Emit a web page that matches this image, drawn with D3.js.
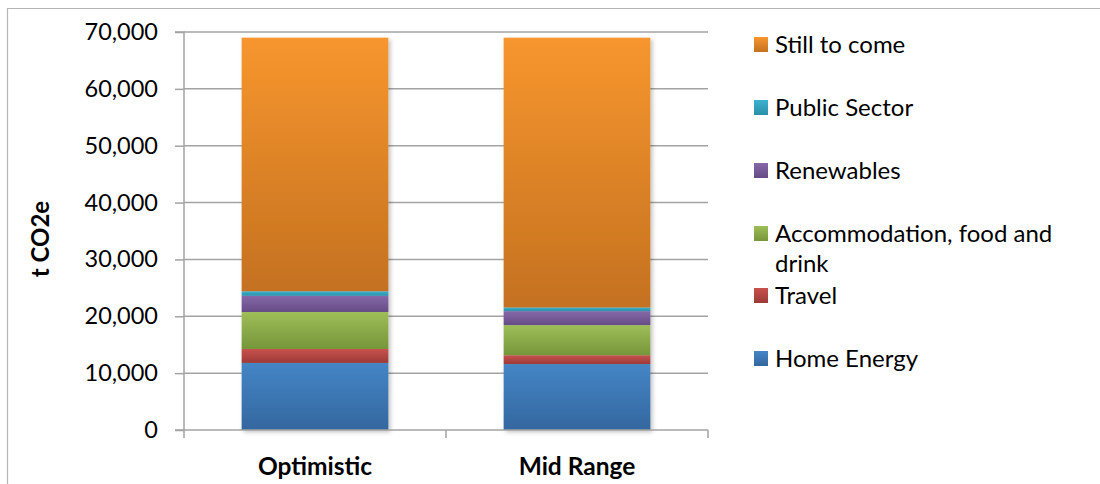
<!DOCTYPE html>
<html>
<head>
<meta charset="utf-8">
<script src="https://cdn.jsdelivr.net/npm/d3@7/dist/d3.min.js"></script>
<style>
  html, body { margin: 0; padding: 0; background: #fff; }
  svg { display: block; font-family: Lato, "Open Sans", sans-serif; }
</style>
</head>
<body>
<svg id="chart" width="1100" height="484"></svg>
<script>
// Scenarios on the x axis
const categories = ["Optimistic", "Mid Range"];

// Series, bottom to top of each stack (t CO2e)
const seriesNames = ["Home Energy", "Travel", "Accommodation, food and drink", "Renewables", "Public Sector", "Still to come"];
const homeEnergy   = [11800, 11600];
const travel       = [2450, 1550];
const accommodation = [6500, 5300];
const renewables   = [2850, 2450];
const publicSector = [800, 650];
const stillToCome  = [44600, 47450];

const yTicks = [0, 10000, 20000, 30000, 40000, 50000, 60000, 70000];
const yTitle = "t CO2e";

// Gradient stops per series: [top, bottom]
const seriesColors = [
  ["#4585c6", "#33679f"],
  ["#c8524e", "#9c3a36"],
  ["#9dbe58", "#76963a"],
  ["#8668a8", "#654c86"],
  ["#3cb3cf", "#2a8ea8"],
  ["#f7962e", "#c47120"]
];

const svg = d3.select("#chart");
const defs = svg.append("defs");

seriesColors.forEach((c, i) => {
  const g = defs.append("linearGradient")
    .attr("id", "grad" + i).attr("x1", 0).attr("y1", 0).attr("x2", 0).attr("y2", 1);
  g.append("stop").attr("offset", "0%").attr("stop-color", c[0]);
  g.append("stop").attr("offset", "100%").attr("stop-color", c[1]);
});

const shadow = defs.append("filter").attr("id", "shadow")
  .attr("x", "-10%").attr("y", "-10%").attr("width", "130%").attr("height", "130%");
shadow.append("feDropShadow").attr("dx", 2).attr("dy", 2).attr("stdDeviation", 2)
  .attr("flood-color", "#000").attr("flood-opacity", 0.25);

// Outer frame (top and left edges visible)
svg.append("path").attr("d", "M7.5,484 V8.5 H1100")
  .attr("fill", "none").attr("stroke", "#b5b5b5").attr("stroke-width", 1.2);

const plot = { left: 184, right: 708, top: 32, bottom: 430 };

const x = d3.scaleBand().domain(categories)
  .range([plot.left, plot.right]).paddingInner(0.44).paddingOuter(0.22);
const y = d3.scaleLinear().domain([0, 70000]).range([plot.bottom, plot.top]);

// Gridlines
svg.append("g").selectAll("line").data(yTicks.slice(1)).join("line")
  .attr("x1", plot.left).attr("x2", plot.right)
  .attr("y1", d => y(d)).attr("y2", d => y(d))
  .attr("stroke", "#a3a3a3").attr("stroke-width", 1.5);

// Stacked data
const seriesArrays = [homeEnergy, travel, accommodation, renewables, publicSector, stillToCome];
const table = categories.map((c, j) => {
  const row = { category: c };
  seriesNames.forEach((s, i) => row[s] = seriesArrays[i][j]);
  return row;
});
const stacked = d3.stack().keys(seriesNames)(table);

const bars = svg.append("g").attr("filter", "url(#shadow)");
stacked.forEach((layer, i) => {
  bars.selectAll(null).data(layer).join("rect")
    .attr("x", d => x(d.data.category))
    .attr("width", x.bandwidth())
    .attr("y", d => y(d[1]))
    .attr("height", d => y(d[0]) - y(d[1]))
    .attr("fill", `url(#grad${i})`);
});

// Y axis
const yAxis = d3.axisLeft(y).tickValues(yTicks).tickSize(9).tickPadding(17)
  .tickFormat(d3.format(","));
const yg = svg.append("g").attr("transform", `translate(${plot.left},0)`).call(yAxis);
yg.select(".domain").attr("stroke", "#a3a3a3").attr("stroke-width", 1.5)
  .attr("d", `M-9,${plot.top}H0V${plot.bottom}H-9`);
yg.selectAll(".tick line").attr("stroke", "#a3a3a3").attr("stroke-width", 1.5);
yg.selectAll(".tick text").attr("font-size", 23.5).attr("fill", "#000")
  .attr("font-family", "Lato, sans-serif");

// X axis baseline and ticks at category boundaries
const xg = svg.append("g");
xg.append("line").attr("x1", plot.left).attr("x2", plot.right)
  .attr("y1", plot.bottom).attr("y2", plot.bottom)
  .attr("stroke", "#a3a3a3").attr("stroke-width", 1.5);
const boundaries = [plot.left, (plot.left + plot.right) / 2, plot.right];
xg.selectAll(".bt").data(boundaries).join("line")
  .attr("x1", d => d).attr("x2", d => d)
  .attr("y1", plot.bottom).attr("y2", plot.bottom + 8)
  .attr("stroke", "#a3a3a3").attr("stroke-width", 1.5);
xg.selectAll("text").data(categories).join("text")
  .attr("x", d => x(d) + x.bandwidth() / 2)
  .attr("y", 475)
  .attr("text-anchor", "middle")
  .attr("font-size", 24.5).attr("font-weight", "bold")
  .text(d => d);

// Y axis title
svg.append("text")
  .attr("transform", "translate(49,239) rotate(-90)")
  .attr("text-anchor", "middle")
  .attr("font-size", 24).attr("font-weight", "bold")
  .text(yTitle);

// Legend (top entry is the top series)
const legendItems = [
  { i: 5, lines: ["Still to come"], y: 45 },
  { i: 4, lines: ["Public Sector"], y: 108 },
  { i: 3, lines: ["Renewables"], y: 171 },
  { i: 2, lines: ["Accommodation, food and", "drink"], y: 234 },
  { i: 1, lines: ["Travel"], y: 296 },
  { i: 0, lines: ["Home Energy"], y: 359 }
];
const lg = svg.append("g");
legendItems.forEach(item => {
  lg.append("rect").attr("x", 754).attr("y", item.y - 8).attr("width", 14).attr("height", 15)
    .attr("fill", `url(#grad${item.i})`);
  item.lines.forEach((t, k) => {
    lg.append("text").attr("x", 775).attr("y", item.y + 8 + k * 30)
      .attr("font-size", 24).text(t);
  });
});
</script>
</body>
</html>
